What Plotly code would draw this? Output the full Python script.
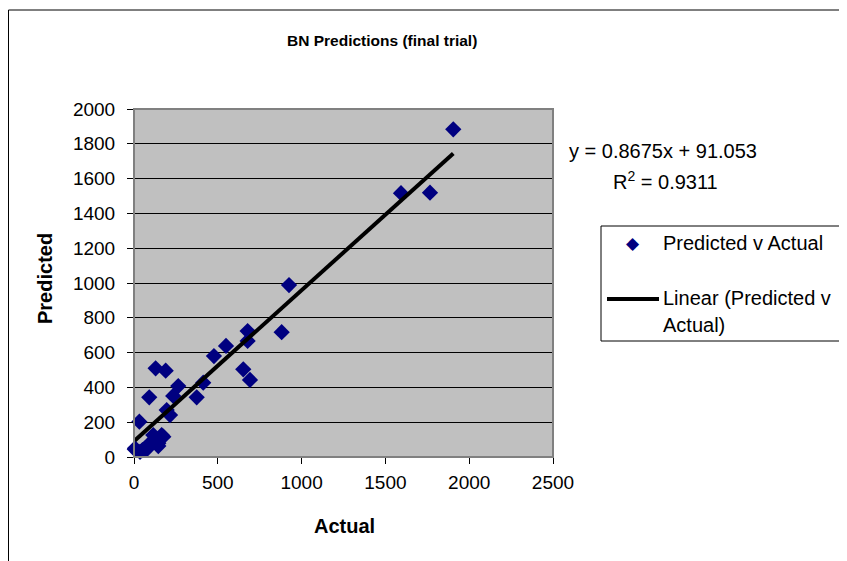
import plotly.graph_objects as go

# ---- data ----
actual = [1905, 1593, 1766, 925, 881, 678, 678, 652, 692, 549, 477, 413, 374, 264, 234,
          215, 195, 189, 129, 91, 32, 115, 165, 145, 6, 66, 36, 175, 145, 76, 85, 5, 100, 50]
predicted = [1883, 1516, 1519, 988, 717, 724, 667, 504, 443, 638, 580, 427, 343, 408, 351,
             241, 270, 496, 510, 343, 203, 126, 126, 63, 50, 50, 30, 117, 79, 44, 69, 44, 80, 40]
slope = 0.8675
intercept = 91.053
r2 = 0.9311
x_ticks = [0, 500, 1000, 1500, 2000, 2500]
y_ticks = [0, 200, 400, 600, 800, 1000, 1200, 1400, 1600, 1800, 2000]

OFF = 8  # page body margin
W, H = 847 - OFF, 561 - OFF
# plot area in reference (viewport) px
RL, RR, RT, RB = 134, 553, 109, 457
L, R, T, B = RL - OFF, RR - OFF, RT - OFF, RB - OFF
pw, ph = R - L, B - T

def px(x):  # reference viewport x -> paper
    return (x - OFF - L) / pw

def py(y):  # reference viewport y -> paper
    return (B - (y - OFF)) / ph

FONT = "Liberation Sans, Arial, sans-serif"

fig = go.Figure()
fig.add_trace(go.Scatter(x=actual, y=predicted, mode="markers",
                         marker=dict(symbol="diamond", size=12.5, color="#000080",
                                     line=dict(width=0)),
                         showlegend=False, cliponaxis=False))
xmin, xmax = min(actual), max(actual)
fig.add_trace(go.Scatter(x=[xmin, xmax], y=[slope * xmin + intercept, slope * xmax + intercept],
                         mode="lines", line=dict(color="black", width=4),
                         showlegend=False))

shapes = [
    dict(type="rect", xref="paper", yref="paper", x0=(0.5 - L) / pw, x1=px(960), y0=py(10), y1=py(640),
         line=dict(color="black", width=1), fillcolor="rgba(0,0,0,0)", layer="below"),
    dict(type="rect", xref="paper", yref="paper", x0=0, x1=1, y0=0, y1=1,
         line=dict(color="#808080", width=2), fillcolor="rgba(0,0,0,0)", layer="above"),
    dict(type="rect", xref="paper", yref="paper", x0=px(601), x1=px(900), y0=py(226), y1=py(341),
         line=dict(color="black", width=1), fillcolor="white"),
    dict(type="line", xref="paper", yref="paper", x0=px(607), x1=px(659), y0=py(299), y1=py(299),
         line=dict(color="black", width=4)),
]

def ann(text, x, y, xanchor="left", size=20, family=FONT, color="black", textangle=0):
    return dict(text=text, x=px(x), y=py(y), xref="paper", yref="paper", showarrow=False,
                xanchor=xanchor, yanchor="middle", textangle=textangle,
                font=dict(family=family, size=size, color=color))

annotations = [
    ann("<b>BN Predictions (final trial)</b>", 382, 41, "center", size=15.5),
    ann("y = %.4fx + %.3f" % (slope, intercept), 567, 151),
    ann("R<sup>2</sup> = %.4f" % r2, 611, 180),
    ann("◆", 633, 243, "center", size=17, family="DejaVu Sans", color="#000080"),
    ann("Predicted v Actual", 661, 243),
    ann("Linear (Predicted v", 661, 298),
    ann("Actual)", 661, 325),
    ann("<b>Actual</b>", 344, 526, "center"),
    ann("<b>Predicted</b>", 45, 279, "center", textangle=-90),
]

fig.update_layout(
    width=W, height=H,
    margin=dict(l=L, r=W - R, t=T, b=H - B, pad=0),
    paper_bgcolor="white", plot_bgcolor="#C0C0C0",
    font=dict(family=FONT, size=19, color="black"),
    shapes=shapes, annotations=annotations, showlegend=False,
    xaxis=dict(range=[0, 2500], tickvals=x_ticks, ticktext=[str(v) for v in x_ticks],
               showgrid=False, zeroline=False, showline=True, linecolor="black", linewidth=1,
               ticks="outside", ticklen=6, tickcolor="black", ticklabelstandoff=2),
    yaxis=dict(range=[0, 2000], tickvals=y_ticks, ticktext=[str(v) for v in y_ticks],
               showgrid=True, gridcolor="black", gridwidth=1, zeroline=False,
               showline=True, linecolor="black", linewidth=1,
               ticks="outside", ticklen=6, tickcolor="black", ticklabelstandoff=8),
)

fig.write_html("out.html")
